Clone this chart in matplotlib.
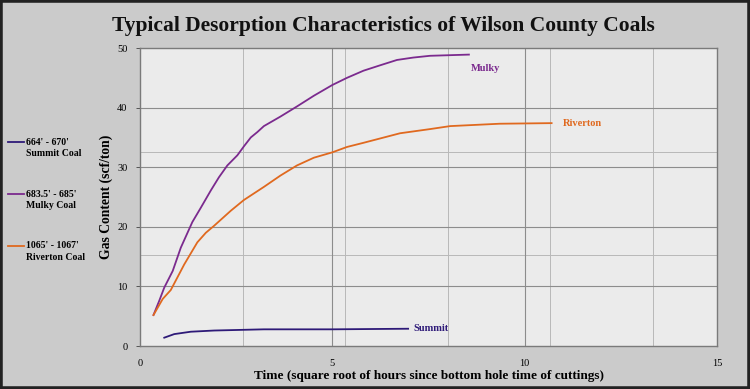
import matplotlib
matplotlib.use('Agg')
import matplotlib.pyplot as plt
from matplotlib.lines import Line2D

# data
summit_x = [0.63, 0.89, 1.32, 1.93, 3.22, 5.0, 6.97]
summit_y = [1.4, 2.0, 2.4, 2.6, 2.8, 2.8, 2.9]

mulky_x = [0.35, 0.50, 0.63, 0.85, 1.06, 1.36, 1.58, 1.84, 2.05, 2.27, 2.53, 2.70, 2.88,
           3.05, 3.22, 3.65, 4.08, 4.52, 5.0, 5.38, 5.81, 6.24, 6.68, 7.10, 7.54, 8.55]
mulky_y = [5.2, 7.6, 9.8, 12.6, 16.5, 20.8, 23.2, 26.1, 28.3, 30.3, 32.0, 33.5, 35.0,
           35.9, 36.9, 38.5, 40.2, 42.0, 43.8, 45.0, 46.2, 47.1, 48.0, 48.4, 48.7, 48.9]

riverton_x = [0.35, 0.59, 0.80, 1.15, 1.49, 1.71, 1.93, 2.36, 2.70, 3.22, 3.65, 4.08, 4.52,
              5.0, 5.38, 5.81, 6.76, 7.54, 8.06, 9.35, 10.7]
riverton_y = [5.2, 7.9, 9.4, 13.7, 17.4, 19.0, 20.2, 22.7, 24.5, 26.7, 28.6, 30.3, 31.6,
              32.5, 33.4, 34.1, 35.7, 36.4, 36.9, 37.3, 37.4]

x_ticks = [0, 5, 10, 15]
y_ticks = [0, 10, 20, 30, 40, 50]

c_summit = '#2e1a78'
c_mulky = '#7b2a8e'
c_riverton = '#e0691f'
serif = 'Liberation Serif'

fig = plt.figure(figsize=(7.5, 3.89), dpi=100)
fig.patch.set_facecolor('#cbcbcb')
ax = fig.add_axes([0.1867, 0.1105, 0.7693, 0.766])
ax.set_facecolor('#ebebeb')

# grid
for v in [8/3, 16/3, 8, 32/3, 40/3]:
    ax.axvline(v, color='#b8b8b8', lw=0.7, zorder=0)
for v in [15.2, 32.5]:
    ax.axhline(v, color='#b8b8b8', lw=0.7, zorder=0)
for v in [5, 10]:
    ax.axvline(v, color='#8c8c8c', lw=0.8, zorder=0)
for v in [10, 20, 30, 40]:
    ax.axhline(v, color='#8c8c8c', lw=0.8, zorder=0)

ax.plot(summit_x, summit_y, color=c_summit, lw=1.3)
ax.plot(mulky_x, mulky_y, color=c_mulky, lw=1.3)
ax.plot(riverton_x, riverton_y, color=c_riverton, lw=1.3)

ax.text(7.1, 2.9, 'Summit', color=c_summit, fontfamily=serif, fontweight='bold',
        fontsize=7.5, va='center', ha='left')
ax.text(8.6, 46.5, 'Mulky', color=c_mulky, fontfamily=serif, fontweight='bold',
        fontsize=7.5, va='center', ha='left')
ax.text(11.0, 37.3, 'Riverton', color=c_riverton, fontfamily=serif, fontweight='bold',
        fontsize=7.5, va='center', ha='left')

ax.set_xlim(0, 15)
ax.set_ylim(0, 50)
ax.set_xticks(x_ticks)
ax.set_yticks(y_ticks)
ax.tick_params(axis='x', length=0, pad=9)
ax.tick_params(axis='y', length=3, width=0.7, color='#555555', pad=6)
for lab in ax.get_xticklabels() + ax.get_yticklabels():
    lab.set_fontfamily(serif)
    lab.set_fontsize(7.5)
for s in ax.spines.values():
    s.set_color('#7a7a7a')
    s.set_linewidth(1.0)

ax.set_xlabel('Time (square root of hours since bottom hole time of cuttings)',
              fontfamily=serif, fontweight='bold', fontsize=9.5, labelpad=2)
ax.set_ylabel('Gas Content (scf/ton)', fontfamily=serif, fontweight='bold',
              fontsize=9.8, labelpad=3)

fig.text(0.511, 0.933, 'Typical Desorption Characteristics of Wilson County Coals',
         fontfamily=serif, fontweight='bold', fontsize=15.5, ha='center', va='center',
         color='#111111')

# legend on the left
legend_items = [("664' - 670'", 'Summit Coal', c_summit, 142),
                ("683.5' - 685'", 'Mulky Coal', c_mulky, 194),
                ("1065' - 1067'", 'Riverton Coal', c_riverton, 246)]
for top, bottom, col, ypx in legend_items:
    yf = 1 - ypx / 389
    fig.add_artist(Line2D([8 / 750, 24 / 750], [yf, yf], color=col, lw=1.3))
    fig.text(26 / 750, yf, top, fontfamily=serif, fontweight='bold', fontsize=7,
             va='center', ha='left')
    fig.text(26 / 750, yf - 11 / 389, bottom, fontfamily=serif, fontweight='bold',
             fontsize=7, va='center', ha='left')

# outer frame
fig.add_artist(plt.Rectangle((0, 0), 1, 1, transform=fig.transFigure, fill=False,
                             edgecolor='#222222', lw=4))

fig.savefig('out.png', dpi=100, facecolor=fig.get_facecolor())
